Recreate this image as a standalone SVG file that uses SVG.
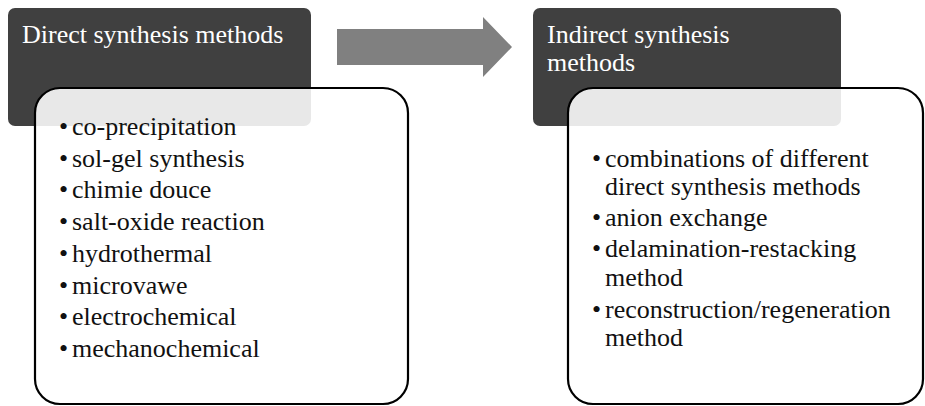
<svg xmlns="http://www.w3.org/2000/svg" width="925" height="406" viewBox="0 0 925 406">
<style>
.hdr{fill:#404040;}
.card{fill:#ffffff;fill-opacity:0.88;stroke:#000000;stroke-width:2.2;}
text{font-family:'Liberation Serif',serif;font-size:26px;}
.ht{fill:#ffffff;}
.bt{fill:#111111;}
</style>
<rect width="925" height="406" fill="#ffffff"/>
<g id="direct">
<rect class="hdr" x="8" y="8" width="303" height="118" rx="7"/>
<text class="ht" x="22" y="43" font-family="Liberation Serif">Direct synthesis methods</text>
<rect class="card" x="35" y="88" width="373" height="316" rx="25"/>
<g class="bt" font-family="Liberation Serif">
<text x="59" y="135">•</text><text x="72" y="135">co-precipitation</text>
<text x="59" y="166.7">•</text><text x="72" y="166.7">sol-gel synthesis</text>
<text x="59" y="198.4">•</text><text x="72" y="198.4">chimie douce</text>
<text x="59" y="230.1">•</text><text x="72" y="230.1">salt-oxide reaction</text>
<text x="59" y="261.8">•</text><text x="72" y="261.8">hydrothermal</text>
<text x="59" y="293.5">•</text><text x="72" y="293.5">microvawe</text>
<text x="59" y="325.2">•</text><text x="72" y="325.2">electrochemical</text>
<text x="59" y="356.9">•</text><text x="72" y="356.9">mechanochemical</text>
</g>
</g>
<g id="connectors">
<polygon points="337,29 483,29 483,17 512,47 483,77 483,65 337,65" fill="#808080"/>
</g>
<g id="indirect">
<rect class="hdr" x="533" y="8" width="308" height="118" rx="7"/>
<text class="ht" x="547" y="43">Indirect synthesis</text>
<text class="ht" x="547" y="71">methods</text>
<rect class="card" x="568" y="88" width="355" height="316" rx="25"/>
<g class="bt">
<text x="592" y="167">•</text><text x="605" y="167">combinations of different</text>
<text x="605" y="195">direct synthesis methods</text>
<text x="592" y="226">•</text><text x="605" y="226">anion exchange</text>
<text x="592" y="257">•</text><text x="605" y="257">delamination-restacking</text>
<text x="605" y="286">method</text>
<text x="592" y="318">•</text><text x="605" y="318">reconstruction/regeneration</text>
<text x="605" y="346">method</text>
</g>
</g>
</svg>
